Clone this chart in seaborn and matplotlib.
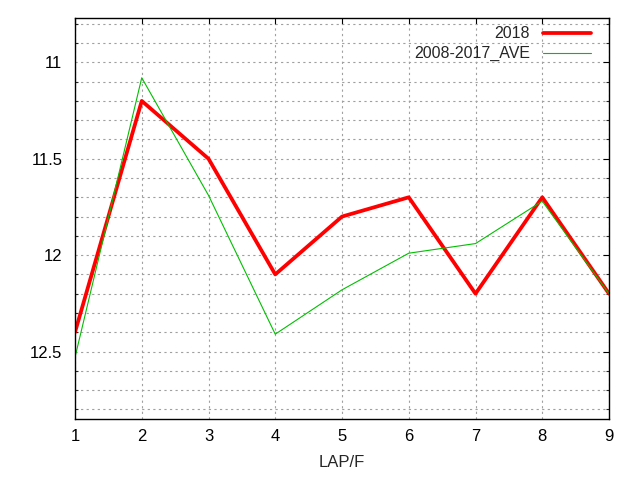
import matplotlib
matplotlib.use("Agg")
import matplotlib.pyplot as plt
import seaborn as sns
import pandas as pd
from matplotlib.ticker import MultipleLocator, FixedLocator, FormatStrFormatter
from matplotlib.lines import Line2D

laps = [1, 2, 3, 4, 5, 6, 7, 8, 9]
y2018 = [12.4, 11.2, 11.5, 12.1, 11.8, 11.7, 12.2, 11.7, 12.2]
yave = [12.53, 11.08, 11.69, 12.41, 12.18, 11.99, 11.94, 11.72, 12.2]
series_names = ["2018", "2008-2017_AVE"]
yticks = [11, 11.5, 12, 12.5]

sns.set_theme(style="white")
plt.rcParams['font.family'] = ['Liberation Sans', 'DejaVu Sans']

df = pd.DataFrame({
    "LAP": laps * 2,
    "time": y2018 + yave,
    "series": [series_names[0]] * len(laps) + [series_names[1]] * len(laps),
})

fig = plt.figure(figsize=(6.4, 4.8), dpi=100)
ax = fig.add_axes([75/640, 1 - 419/480, (609-75)/640, (419-18)/480])

sns.lineplot(data=df, x="LAP", y="time", hue="series", size="series",
             palette={series_names[0]: "#ff0000", series_names[1]: "#00c000"},
             sizes={series_names[0]: 2.7, series_names[1]: 0.8},
             ax=ax, legend=False)

ax.set_xlim(1, 9)
ax.set_ylim(12.85, 10.77)
ax.xaxis.set_major_locator(FixedLocator(laps))
ax.yaxis.set_major_locator(FixedLocator(yticks))
ax.yaxis.set_minor_locator(MultipleLocator(0.1))
ax.yaxis.set_major_formatter(FormatStrFormatter('%g'))

ax.grid(True, which='both', axis='y', color='#a0a0a0', linestyle=(0, (2, 3)), linewidth=0.8)
ax.grid(True, which='major', axis='x', color='#a0a0a0', linestyle=(0, (2, 3)), linewidth=0.8)
ax.set_axisbelow(True)

ax.tick_params(axis='both', which='major', direction='in', length=4, width=0.8,
               top=True, right=True, labelsize=12, colors='black', pad=9)
ax.tick_params(axis='y', which='minor', direction='in', length=2.5, width=0.8,
               left=True, right=True)
ax.tick_params(axis='x', pad=7)

for s in ax.spines.values():
    s.set_color('black')
    s.set_linewidth(1.0)

ax.set_xlabel("LAP/F", fontsize=12, labelpad=8)
ax.set_ylabel("")

handles = [Line2D([], [], color="#ff0000", lw=2.7), Line2D([], [], color="#00c000", lw=0.8)]
ax.legend(handles, series_names, loc='upper right', bbox_to_anchor=(0.979, 0.995),
          frameon=False, markerfirst=False,
          fontsize=11.5, handlelength=3.0, handletextpad=0.85, labelspacing=0.3,
          borderaxespad=0.0)

fig.savefig("out.png", dpi=100)
